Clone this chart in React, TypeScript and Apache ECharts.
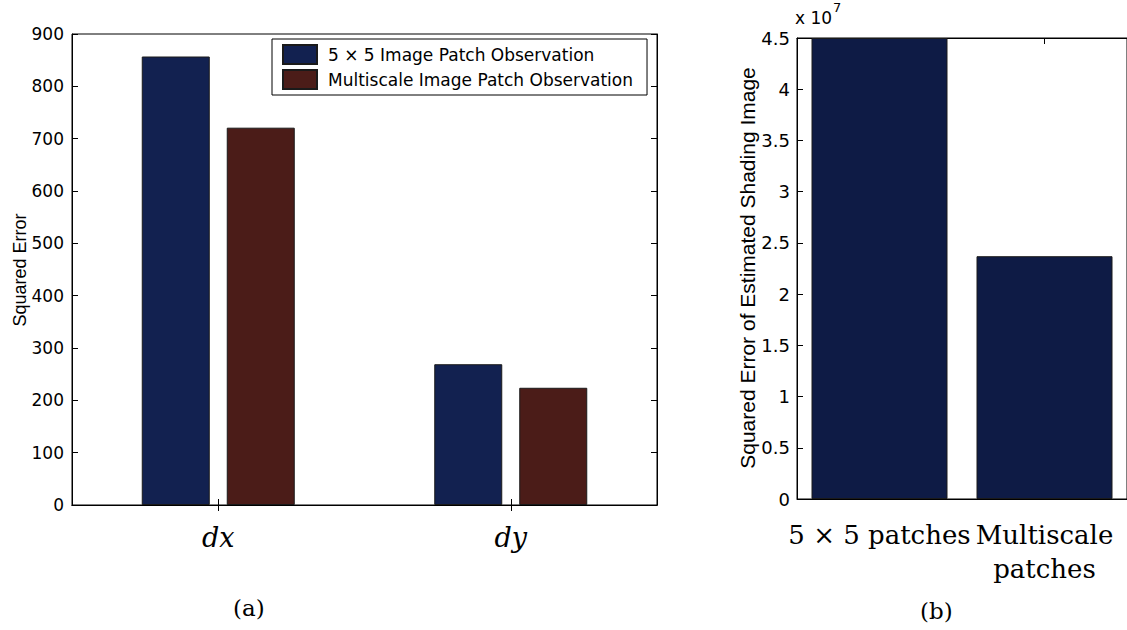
import React, { useEffect, useRef } from "react";
import * as echarts from "echarts";

const categoriesA = ["dx", "dy"];
const seriesA5x5 = [857, 269];
const seriesAMulti = [721, 224];
const ticksA = { min: 0, max: 900, interval: 100 };

const categoriesB = ["5 × 5 patches", "Multiscale\npatches"];
const valuesB = [45000000, 23700000];
const ticksB = { min: 0, max: 45000000, interval: 5000000 };

const legendNames = ["5 × 5 Image Patch Observation", "Multiscale Image Patch Observation"];
const yNameA = "Squared Error";
const yNameB = "Squared Error of Estimated Shading Image";

const NAVY = "#122150";
const MAROON = "#4b1c18";
const NAVY_B = "#0e1b45";

export default function App() {
  const ref = useRef<HTMLDivElement>(null);
  useEffect(() => {
    if (!ref.current) return;
    const chart = echarts.init(ref.current, null, { renderer: "svg" });
    const axisLine = { show: true, lineStyle: { color: "#000", width: 1 } };
    const tickIn = { show: true, inside: true, length: 6, lineStyle: { color: "#000" } };
    const sans = "DejaVu Sans";
    chart.setOption({
      animation: false,
      backgroundColor: "#fff",
      grid: [
        { left: 72, top: 34, width: 585, height: 471, show: true, borderColor: "#000", borderWidth: 1 },
        { left: 797, top: 38, width: 340, height: 461, show: true, borderColor: "#000", borderWidth: 1 },
      ],
      legend: {
        data: legendNames,
        orient: "vertical",
        left: 272,
        top: 39,
        itemWidth: 34,
        itemHeight: 19,
        itemGap: 4,
        icon: "rect",
        padding: [5, 14, 5, 10],
        borderColor: "#000",
        borderWidth: 1,
        backgroundColor: "#fff",
        textStyle: { fontFamily: sans, fontSize: 17, color: "#000", padding: [0, 0, 0, 6] },
      },
      xAxis: [
        {
          type: "category", gridIndex: 0, data: categoriesA, position: "bottom",
          axisLine, axisTick: { ...tickIn, alignWithLabel: true },
          axisLabel: { fontFamily: "DejaVu Serif", fontStyle: "italic", fontSize: 27, color: "#000", margin: 19 },
        },
        {
          type: "category", gridIndex: 0, data: categoriesA, position: "top",
          axisLine, axisTick: { ...tickIn, alignWithLabel: true }, axisLabel: { show: false },
        },
        {
          type: "category", gridIndex: 1, data: categoriesB, position: "bottom",
          axisLine, axisTick: { ...tickIn, alignWithLabel: true },
          axisLabel: { fontFamily: "DejaVu Serif", fontSize: 26, color: "#000", margin: 19, lineHeight: 34, interval: 0, verticalAlign: "top" },
        },
        {
          type: "category", gridIndex: 1, data: categoriesB, position: "top",
          axisLine, axisTick: { ...tickIn, alignWithLabel: true }, axisLabel: { show: false },
        },
      ],
      yAxis: [
        {
          type: "value", gridIndex: 0, position: "left", ...ticksA,
          axisLine, axisTick: tickIn, splitLine: { show: false },
          axisLabel: { fontFamily: sans, fontSize: 17, color: "#000", margin: 8 },
        },
        {
          type: "value", gridIndex: 0, position: "right", ...ticksA,
          axisLine, axisTick: tickIn, splitLine: { show: false }, axisLabel: { show: false },
        },
        {
          type: "value", gridIndex: 1, position: "left", ...ticksB,
          axisLine, axisTick: tickIn, splitLine: { show: false },
          axisLabel: {
            fontFamily: sans, fontSize: 18, color: "#000", margin: 7,
            formatter: (v: number) => String(Math.round((v / 1e7) * 10) / 10),
          },
        },
      ],
      series: [
        {
          name: legendNames[0], type: "bar", xAxisIndex: 0, yAxisIndex: 0, data: seriesA5x5,
          barWidth: 68, barGap: "25%",
          itemStyle: { color: NAVY, borderColor: "#1a1a1a", borderWidth: 1 },
        },
        {
          name: legendNames[1], type: "bar", xAxisIndex: 0, yAxisIndex: 0, data: seriesAMulti,
          barWidth: 68, barGap: "25%",
          itemStyle: { color: MAROON, borderColor: "#1a1a1a", borderWidth: 1 },
        },
        {
          name: "Shading error", type: "bar", xAxisIndex: 2, yAxisIndex: 2, data: valuesB,
          barWidth: 136,
          itemStyle: { color: NAVY_B, borderColor: "#1a1a1a", borderWidth: 1 },
        },
      ],
      graphic: [
        {
          type: "text", x: 20, y: 270, rotation: Math.PI / 2,
          style: { text: yNameA, fontSize: 18, fontFamily: "Liberation Sans", fill: "#000", align: "center", verticalAlign: "middle" },
        },
        {
          type: "text", x: 747, y: 268, rotation: Math.PI / 2,
          style: { text: yNameB, fontSize: 21, fontFamily: "Liberation Sans", fill: "#000", align: "center", verticalAlign: "middle" },
        },
        { type: "text", left: 795, top: 9, style: { text: "x 10", fontSize: 17, fontFamily: "DejaVu Sans", fill: "#000" } },
        { type: "text", left: 833, top: 1, style: { text: "7", fontSize: 13, fontFamily: "DejaVu Sans", fill: "#000" } },
        { type: "text", left: 233, top: 596, style: { text: "(a)", fontSize: 23, fontFamily: "DejaVu Serif", fill: "#000" } },
        { type: "text", left: 920, top: 599, style: { text: "(b)", fontSize: 23, fontFamily: "DejaVu Serif", fill: "#000" } },
      ],
    });
    return () => chart.dispose();
  }, []);
  return <div ref={ref} style={{ position: "fixed", left: 0, top: 0, width: 1127, height: 630 }} />;
}
